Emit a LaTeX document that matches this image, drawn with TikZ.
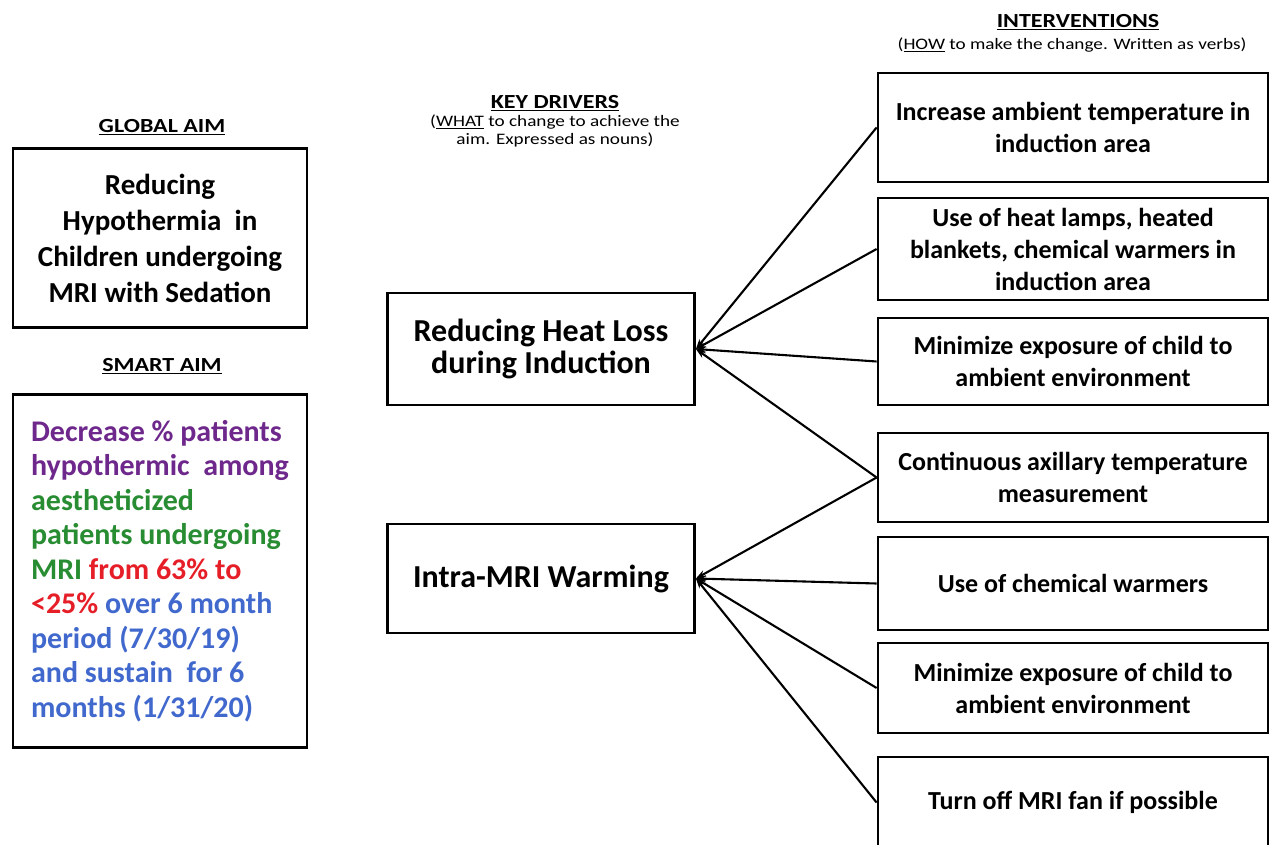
\documentclass[tikz,border=0pt]{standalone}
\usepackage{fontspec}
\setmainfont{Carlito}
\newfontfamily\widefont[FakeStretch=1.2]{Carlito}
\usetikzlibrary{arrows.meta,positioning}
\definecolor{aimpurple}{RGB}{110,40,140}
\definecolor{aimgreen}{RGB}{40,140,50}
\definecolor{aimred}{RGB}{230,30,40}
\definecolor{aimblue}{RGB}{65,105,205}

\begin{document}
\begin{tikzpicture}[x=1pt,y=-1pt,
    hdr/.style={font=\widefont\fontsize{20}{24}\selectfont\bfseries},
    note/.style={font=\widefont\fontsize{16}{18}\selectfont,align=center},
    aimbox/.style={draw,line width=2.8pt,inner sep=0pt,minimum width=294pt},
    drvbox/.style={draw,line width=2.8pt,inner sep=0pt,minimum width=307pt,align=center,
        font=\fontsize{32}{32}\selectfont\bfseries},
    actbox/.style={draw,line width=2.8pt,inner sep=0pt,minimum width=390pt,align=center,
        font=\fontsize{26}{32}\selectfont\bfseries},
    link/.style={line width=2.1pt,-{Stealth[length=10pt,width=7pt]}}]
\useasboundingbox (0,0) rectangle (1271,845);

% aims
\node[hdr] (globalhdr) at (162,127) {\underline{GLOBAL AIM}};
\node[aimbox,minimum height=179pt,align=center,font=\fontsize{29}{36}\selectfont\bfseries]
    (globalaim) at (160,238) {Reducing\\Hypothermia~ in\\Children undergoing\\MRI with Sedation};
\node[hdr] (smarthdr) at (162,366) {\underline{SMART AIM}};
\node[aimbox,minimum height=353pt,align=left,font=\fontsize{30}{34.5}\selectfont\bfseries]
    (smartaim) at (160,571) {\textcolor{aimpurple}{Decrease \% patients}\\
    \textcolor{aimpurple}{hypothermic~ among}\\
    \textcolor{aimgreen}{aestheticized}\\
    \textcolor{aimgreen}{patients undergoing}\\
    \textcolor{aimgreen}{MRI} \textcolor{aimred}{from 63\% to}\\
    \textcolor{aimred}{<25\%} \textcolor{aimblue}{over 6 month}\\
    \textcolor{aimblue}{period (7/30/19)}\\
    \textcolor{aimblue}{and sustain~ for 6}\\
    \textcolor{aimblue}{months (1/31/20)}};

% key drivers
\node[hdr] (drvhdr) at (555,103) {\underline{KEY DRIVERS}};
\node[note] (drvnote) at (555,131) {(\underline{WHAT} to change to achieve the\\aim. Expressed as nouns)};
\node[drvbox,minimum height=112pt] (heatloss) at (541,349) {Reducing Heat Loss\\during Induction};
\node[drvbox,minimum height=109pt] (mriwarm) at (541,578.5) {Intra-MRI Warming};

% interventions
\node[hdr] (acthdr) at (1078,22) {\underline{INTERVENTIONS}};
\node[note] (actnote) at (1072,45) {(\underline{HOW} to make the change. Written as verbs)};
\foreach \n/\y/\h/\t in {
    act1/127.5/109/{Increase ambient temperature in\\induction area},
    act2/249/102/{Use of heat lamps, heated\\blankets, chemical warmers in\\induction area},
    act3/361.5/87/{Minimize exposure of child to\\ambient environment},
    act4/477.5/89/{Continuous axillary temperature\\measurement},
    act5/583.5/93/{Use of chemical warmers},
    act6/688/90/{Minimize exposure of child to\\ambient environment},
    act7/802.5/91/{Turn off MRI fan if possible}}
    \node[actbox,minimum height=\h pt] (\n) at (1073,\y) {\t};

\foreach \a in {act1,act2,act3,act4}
    \draw[link] (\a.west) -- (heatloss.east);
\foreach \a in {act4,act5,act6,act7}
    \draw[link] (\a.west) -- (mriwarm.east);
\end{tikzpicture}
\end{document}
